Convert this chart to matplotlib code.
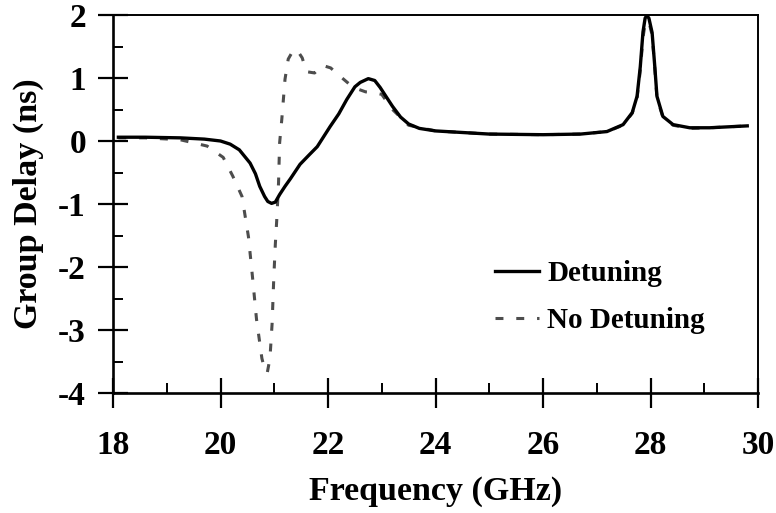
import matplotlib
matplotlib.use("Agg")
import matplotlib.pyplot as plt
from matplotlib.ticker import MultipleLocator

# Group delay vs frequency, with and without detuning
freq_det = [18.1, 18.6, 19.25, 19.7, 20.0, 20.18, 20.35, 20.55, 20.65, 20.73, 20.82,
            20.88, 20.95, 21.02, 21.1, 21.2, 21.3, 21.48, 21.65, 21.8, 22.04, 22.2,
            22.35, 22.5, 22.6, 22.75, 22.87, 22.97, 23.1, 23.2, 23.35, 23.5, 23.7,
            24.0, 25.0, 26.0, 26.7, 27.19, 27.49, 27.66, 27.75, 27.81, 27.86,
            27.9, 27.93, 27.97, 28.03, 28.08, 28.12, 28.23, 28.42, 28.73, 29.1, 29.8]
delay_det = [0.06, 0.06, 0.05, 0.03, 0.0, -0.05, -0.14, -0.35, -0.52, -0.72, -0.88,
             -0.96, -0.99, -0.97, -0.85, -0.72, -0.6, -0.37, -0.22, -0.09, 0.23, 0.43,
             0.66, 0.86, 0.93, 0.99, 0.96, 0.85, 0.68, 0.55, 0.38, 0.27, 0.2,
             0.16, 0.11, 0.1, 0.11, 0.15, 0.26, 0.45, 0.71, 1.18, 1.73,
             1.95, 1.99, 1.95, 1.72, 1.18, 0.71, 0.39, 0.26, 0.21, 0.21, 0.24]

freq_nodet = [18.1, 18.6, 19.25, 19.75, 20.05, 20.23, 20.4, 20.46, 20.52, 20.6, 20.67,
              20.77, 20.83, 20.87, 20.92, 20.96, 20.99, 21.02, 21.05, 21.08, 21.1,
              21.14, 21.17, 21.2, 21.26, 21.34, 21.42, 21.52, 21.6, 21.75, 21.9,
              22.05, 22.18, 22.47, 22.7, 22.84, 23.0, 23.2, 23.5, 24.0, 25.0, 26.0,
              26.7, 27.19, 27.49, 27.66, 27.75, 27.81, 27.86, 27.9, 27.94, 27.98,
              28.03, 28.08, 28.12, 28.23, 28.42, 28.73, 29.1, 29.8]
delay_nodet = [0.05, 0.05, 0.02, -0.08, -0.26, -0.56, -0.88, -1.2, -1.52, -2.2, -2.83,
               -3.45, -3.65, -3.68, -3.45, -2.9, -2.2, -1.64, -1.2, -0.66, -0.03,
               0.34, 0.66, 0.98, 1.3, 1.42, 1.45, 1.32, 1.1, 1.08, 1.2,
               1.16, 1.06, 0.85, 0.78, 0.77, 0.74, 0.5, 0.25, 0.16, 0.11, 0.1,
               0.11, 0.15, 0.25, 0.44, 0.68, 1.12, 1.64, 1.86, 1.9, 1.86,
               1.68, 1.15, 0.68, 0.38, 0.25, 0.2, 0.21, 0.24]

x_ticks = [18, 20, 22, 24, 26, 28, 30]
y_ticks = [-4, -3, -2, -1, 0, 1, 2]

plt.rcParams['font.family'] = ['Liberation Serif', 'DejaVu Serif']
plt.rcParams['font.weight'] = 'bold'
plt.rcParams['axes.unicode_minus'] = False

fig = plt.figure(figsize=(7.76, 5.13), dpi=100)
ax = fig.add_axes([113 / 776, 1 - 393 / 513, (758 - 113) / 776, (393 - 15) / 513])

ax.plot(freq_nodet, delay_nodet, color='#4d4d4d', lw=2.2, dashes=(2.6, 4.2),
        label='No Detuning', zorder=2)
ax.plot(freq_det, delay_det, color='black', lw=2.4, label='Detuning', zorder=3)

ax.set_xlim(18, 30)
ax.set_ylim(-4, 2)
ax.set_xticks(x_ticks)
ax.set_yticks(y_ticks)
ax.xaxis.set_minor_locator(MultipleLocator(1))
ax.yaxis.set_minor_locator(MultipleLocator(0.5))

ax.tick_params(which='major', direction='inout', length=21, width=1.6, labelsize=24)
ax.tick_params(axis='x', which='major', pad=16)
ax.tick_params(axis='y', which='major', pad=9)
ax.tick_params(which='minor', direction='in', length=7, width=1.4)
ax.tick_params(top=False, right=False, which='both')

for side in ['left', 'bottom']:
    ax.spines[side].set_linewidth(1.9)
for side in ['top', 'right']:
    ax.spines[side].set_linewidth(1.4)

ax.set_xlabel('Frequency (GHz)', fontsize=24.5, fontweight='bold', labelpad=11)
ax.set_ylabel('Group Delay (ns)', fontsize=24.5, fontweight='bold', labelpad=10)

handles, labels = ax.get_legend_handles_labels()
leg = ax.legend(handles[::-1], labels[::-1], loc='upper left',
                bbox_to_anchor=(0.592, 0.352), frameon=False,
                prop={'family': 'Liberation Serif', 'weight': 'bold', 'size': 21},
                handlelength=1.5, handletextpad=0.3, labelspacing=0.7,
                borderpad=0, borderaxespad=0)

fig.savefig('out.png', dpi=100)
